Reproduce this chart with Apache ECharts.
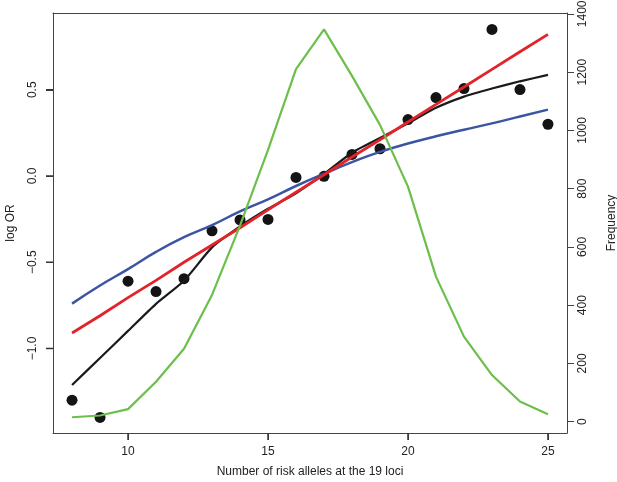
<!DOCTYPE html>
<html>
<head>
<meta charset="utf-8">
<script src="https://cdn.jsdelivr.net/npm/echarts@6/dist/echarts.min.js"></script>
<style>
  html, body { margin: 0; padding: 0; background: #fff; }
  #chart { width: 617px; height: 482px; }
</style>
</head>
<body>
<div id="chart"></div>
<script>
// number of risk alleles
const alleles = [8, 9, 10, 11, 12, 13, 14, 15, 16, 17, 18, 19, 20, 21, 22, 23, 24, 25];
// observed log OR (dots)
const observed = [-1.30, -1.40, -0.61, -0.67, -0.595, -0.318, -0.255, -0.252, -0.008, -0.002, 0.125, 0.158, 0.327, 0.455, 0.507, 0.85, 0.501, 0.30];
// fitted curves
const blueFit = [-0.74, -0.635, -0.54, -0.44, -0.355, -0.285, -0.205, -0.135, -0.058, 0.013, 0.08, 0.14, 0.188, 0.23, 0.268, 0.305, 0.345, 0.385];
const redFit = [-0.91, -0.81, -0.705, -0.605, -0.50, -0.40, -0.30, -0.196, -0.094, 0.007, 0.11, 0.21, 0.313, 0.415, 0.516, 0.618, 0.72, 0.821];
const blackFit = [-1.212, -1.055, -0.898, -0.741, -0.607, -0.414, -0.292, -0.19, -0.10, 0.012, 0.135, 0.22, 0.305, 0.395, 0.46, 0.507, 0.549, 0.586];
// frequency of individuals (green, right axis)
const frequency = [15, 21, 43, 137, 250, 435, 673, 933, 1210, 1347, 1187, 1019, 807, 498, 292, 160, 69, 25];

const xTicks = [10, 15, 20, 25];
const leftTicks = [-1.0, -0.5, 0.0, 0.5];
const rightTicks = [0, 200, 400, 600, 800, 1000, 1200, 1400];

const pairs = vals => alleles.map((x, i) => [x, vals[i]]);

const textColor = '#222';
const lineColor = '#444';
const font = 'Liberation Sans, Arial, Helvetica, sans-serif';
const xRange = { min: 7.32, max: 25.68 };
const leftRange = { min: -1.49, max: 0.945 };
const tickLen = 7;

const chart = echarts.init(document.getElementById('chart'));

chart.setOption({
  animation: false,
  grid: {
    left: 53, right: 50, top: 13, bottom: 49,
    outerBoundsMode: 'none'
  },
  xAxis: [
    {
      type: 'value',
      position: 'bottom',
      ...xRange,
      name: 'Number of risk alleles at the 19 loci',
      nameLocation: 'middle',
      nameGap: 33,
      nameTextStyle: { color: textColor, fontSize: 12, fontFamily: font },
      axisLine: { show: true, onZero: false, lineStyle: { color: lineColor, width: 1 } },
      splitLine: { show: false },
      axisTick: { show: true, length: tickLen, customValues: xTicks, lineStyle: { color: lineColor, width: 1 } },
      axisLabel: { customValues: xTicks, margin: 13, color: textColor, fontSize: 12, fontFamily: font }
    },
    {
      // top edge of the box
      type: 'value',
      position: 'top',
      ...xRange,
      axisLine: { show: true, onZero: false, lineStyle: { color: lineColor, width: 1 } },
      splitLine: { show: false },
      axisTick: { show: false },
      axisLabel: { show: false }
    }
  ],
  yAxis: [
    {
      type: 'value',
      position: 'left',
      ...leftRange,
      name: 'log OR',
      nameLocation: 'middle',
      nameGap: 36,
      nameTextStyle: { color: textColor, fontSize: 12, fontFamily: font },
      axisLine: { show: true, onZero: false, lineStyle: { color: lineColor, width: 1 } },
      splitLine: { show: false },
      axisTick: { show: true, length: tickLen, customValues: leftTicks, lineStyle: { color: lineColor, width: 1 } },
      axisLabel: {
        customValues: leftTicks, rotate: 90, margin: 14,
        color: textColor, fontSize: 12, fontFamily: font,
        formatter: v => v.toFixed(1).replace('-', '\u2212')
      }
    },
    {
      type: 'value',
      position: 'right',
      min: -39, max: 1403,
      name: 'Frequency',
      nameLocation: 'middle',
      nameGap: 39,
      nameRotate: 90,
      nameTextStyle: { color: textColor, fontSize: 12, fontFamily: font },
      axisLine: { show: true, onZero: false, lineStyle: { color: lineColor, width: 1 } },
      splitLine: { show: false },
      axisTick: { show: true, length: tickLen, customValues: rightTicks, lineStyle: { color: lineColor, width: 1 } },
      axisLabel: {
        customValues: rightTicks, rotate: 90, margin: 10,
        color: textColor, fontSize: 12, fontFamily: font,
        formatter: v => String(v)
      }
    }
  ],
  series: [
    {
      type: 'scatter',
      data: pairs(observed),
      symbol: 'circle',
      symbolSize: 11,
      itemStyle: { color: '#141414', opacity: 1 },
      z: 2
    },
    {
      type: 'line',
      data: pairs(blueFit),
      smooth: true,
      showSymbol: false,
      lineStyle: { color: '#3b55a3', width: 2.5 },
      z: 3
    },
    {
      type: 'line',
      data: pairs(blackFit),
      smooth: 0.2,
      showSymbol: false,
      lineStyle: { color: '#1a1a1a', width: 2.2 },
      z: 3
    },
    {
      type: 'line',
      data: pairs(redFit),
      showSymbol: false,
      lineStyle: { color: '#e2232a', width: 2.8 },
      z: 4
    },
    {
      type: 'line',
      yAxisIndex: 1,
      data: pairs(frequency),
      showSymbol: false,
      lineStyle: { color: '#6cbf4a', width: 2.2 },
      z: 5
    }
  ]
});

// left and bottom tick marks, placed through the axes' own scales
const leftX = chart.convertToPixel({ xAxisIndex: 0 }, xRange.min);
const bottomY = chart.convertToPixel({ yAxisIndex: 0 }, leftRange.min);
const tickStyle = { stroke: '#333', lineWidth: 1.5 };
const tickMarks = [];
xTicks.forEach(v => {
  const px = chart.convertToPixel({ xAxisIndex: 0 }, v);
  tickMarks.push({ type: 'line', silent: true, z: 100, shape: { x1: px, y1: bottomY, x2: px, y2: bottomY + tickLen }, style: tickStyle });
});
leftTicks.forEach(v => {
  const py = chart.convertToPixel({ yAxisIndex: 0 }, v);
  tickMarks.push({ type: 'line', silent: true, z: 100, shape: { x1: leftX - tickLen, y1: py, x2: leftX, y2: py }, style: tickStyle });
});
chart.setOption({ graphic: { elements: tickMarks } });
</script>
</body>
</html>
